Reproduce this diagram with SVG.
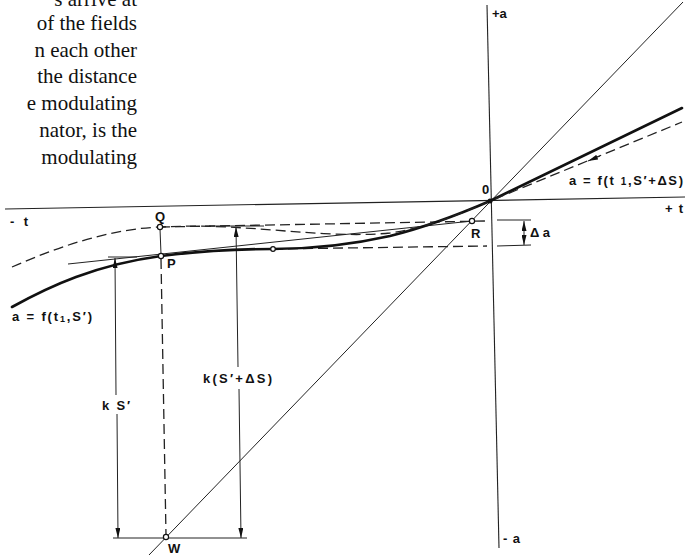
<svg xmlns="http://www.w3.org/2000/svg" width="692" height="555" viewBox="0 0 692 555">
<style>
.body{font-family:"Liberation Serif","Times New Roman",serif;font-size:21px;fill:#111;text-anchor:end}
.lbl{font-family:"Liberation Sans",Arial,sans-serif;font-size:13px;font-weight:bold;fill:#111}
.ax{stroke:#222;stroke-width:1.1;fill:none}
.thin{stroke:#222;stroke-width:1;fill:none}
.thick{stroke:#111;stroke-width:2.6;fill:none;stroke-linecap:round}
.dash{stroke:#222;stroke-width:1.3;fill:none;stroke-dasharray:10 5}
.pt{fill:#fff;stroke:#111;stroke-width:1.2}
</style>
<defs>
<marker id="ah" viewBox="0 0 10 5" refX="10" refY="2.5" markerWidth="10" markerHeight="5" markerUnits="userSpaceOnUse" orient="auto-start-reverse">
<path d="M0,0 L10,2.5 L0,5 z" fill="#111"/>
</marker>
</defs>
<rect width="692" height="555" fill="#fff"/>

<g id="body-text">
<text class="body" x="137" y="6">s arrive at</text>
<text class="body" x="137" y="30">of the fields</text>
<text class="body" x="137" y="57">n each other</text>
<text class="body" x="137" y="83">the distance</text>
<text class="body" x="137" y="110">e modulating</text>
<text class="body" x="137" y="137">nator, is the</text>
<text class="body" x="137" y="164">modulating</text>
</g>

<g id="axes">
<line class="ax" x1="5" y1="209" x2="685" y2="197"/>
<line class="ax" x1="487" y1="5" x2="499" y2="548"/>
<text class="lbl" x="492" y="18" font-size="11">+a</text>
<text class="lbl" x="503" y="543" font-size="12" textLength="17">-a</text>
<text class="lbl" x="10" y="226" textLength="18">-t</text>
<text class="lbl" x="665" y="213" textLength="18">+t</text>
<text class="lbl" x="482" y="194" font-size="8">0</text>
</g>

<g id="connectors">
<line class="thin" x1="683" y1="2" x2="149" y2="555" stroke-width="1.2"/>
<line class="thin" x1="68" y1="264" x2="472" y2="221"/>
<line class="dash" x1="160" y1="227" x2="486" y2="221"/>
<line class="thin" x1="497" y1="220" x2="531" y2="220"/>
<line class="dash" x1="273" y1="249" x2="487" y2="246"/>
<line class="thin" x1="497" y1="246" x2="531" y2="245"/>
<line class="thin" x1="524" y1="221" x2="524" y2="245" marker-start="url(#ah)" marker-end="url(#ah)"/>
<line class="thin" x1="160" y1="229" x2="161" y2="254"/>
<line class="dash" x1="161" y1="259" x2="166" y2="535" stroke-dasharray="10 4"/>
<line class="thin" x1="108" y1="257" x2="137" y2="257" stroke-width="1.4"/>
<line class="thin" x1="209" y1="226" x2="264" y2="226" stroke-width="1.4"/>
<line class="thin" x1="116" y1="395" x2="115" y2="258" marker-end="url(#ah)"/>
<line class="thin" x1="117" y1="414" x2="118" y2="538" marker-end="url(#ah)"/>
<line class="thin" x1="238" y1="367" x2="236" y2="227" marker-end="url(#ah)"/>
<line class="thin" x1="239" y1="389" x2="241" y2="538" marker-end="url(#ah)"/>
<line class="thin" x1="113" y1="538" x2="247" y2="538" stroke-width="1.2"/>
<path class="thick" d="M12,307 C50,286 95,265 161,256 C200,251 240,249 273,249 C310,249 350,245 390,236 C430,226 460,214 490,201 L682,108"/>
<path class="dash" d="M12,267 C60,246 110,229 160,227 C200,225 230,227 260,229 C300,232 350,237 390,233 C430,227 460,214 490,201 L682,122"/>
<line class="thin" x1="600" y1="156" x2="588" y2="161" marker-end="url(#ah)"/>
</g>

<g id="point-Q"><circle class="pt" cx="160" cy="227" r="2.6"/><text class="lbl" x="155" y="221">Q</text></g>
<g id="point-P"><circle class="pt" cx="161" cy="256" r="2.6"/><text class="lbl" x="167" y="268">P</text></g>
<g id="point-M"><circle class="pt" cx="273" cy="249" r="2.3"/></g>
<g id="point-R"><circle class="pt" cx="472" cy="221" r="2.6"/><text class="lbl" x="471" y="238" font-size="14" font-weight="normal">R</text></g>
<g id="point-W"><circle class="pt" cx="166" cy="537" r="2.6"/><text class="lbl" x="168" y="553" font-size="13" font-weight="normal">W</text></g>
<g id="point-O"><circle cx="490" cy="201" r="2.5" fill="#111"/></g>

<g id="labels">
<text class="lbl" x="530" y="237" textLength="20">Δa</text>
<text class="lbl" x="12" y="321" textLength="80">a = f(t<tspan font-size="9" dy="1">1</tspan><tspan dy="-1">,S′)</tspan></text>
<text class="lbl" x="569" y="185" textLength="114">a = f(t <tspan font-size="10">1</tspan>,S′+ΔS)</text>
<text class="lbl" x="102" y="410" font-weight="normal" font-size="13" textLength="28">k S′</text>
<text class="lbl" x="203" y="383" font-weight="normal" font-size="13" textLength="69">k(S′+ΔS)</text>
</g>
</svg>
